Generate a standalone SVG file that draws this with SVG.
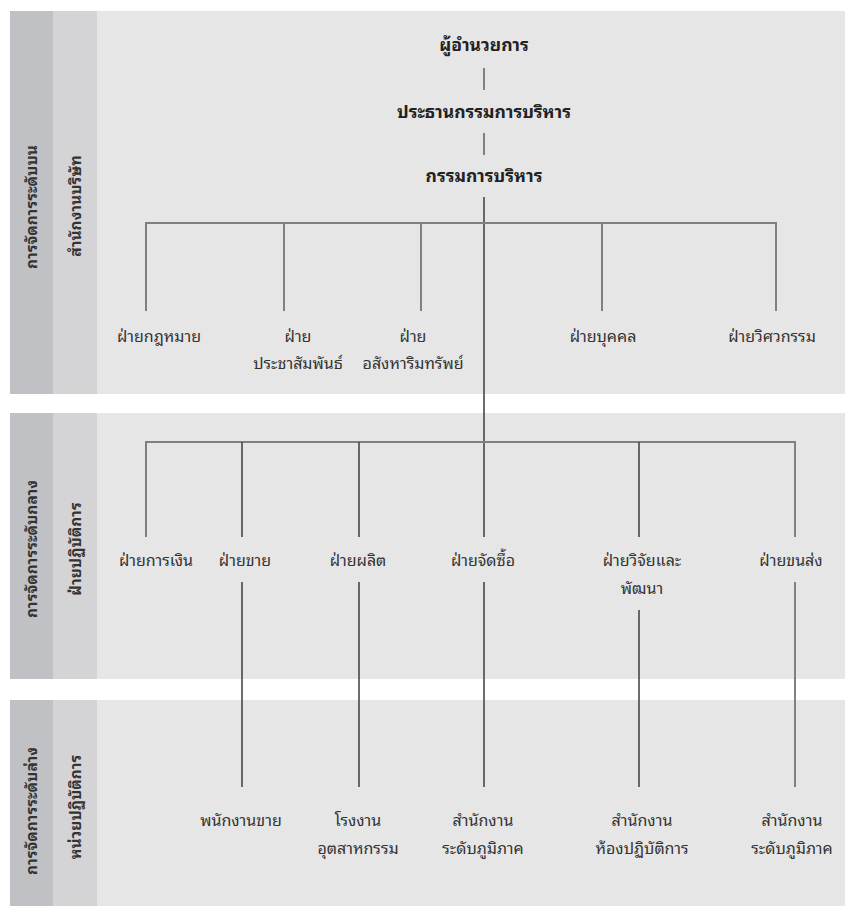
<svg xmlns="http://www.w3.org/2000/svg" width="845" height="909" viewBox="0 0 845 909">
<style>
text{font-family:"Noto Sans Thai Looped","Loma","Garuda","Noto Sans Thai","Noto Sans","DejaVu Sans",sans-serif;fill:#333;text-anchor:middle}
.t{font-size:16px}
.b{font-size:17.5px;font-weight:bold;fill:#222}
.side{font-size:15.5px;font-weight:bold;fill:#333}
.g{stroke:#808080;stroke-width:2;fill:none}
.d{stroke:#3c3c3c;stroke-width:1.5;fill:none}
.main{fill:#e6e6e6}
.c1{fill:#c0c1c5}
.c2{fill:#d4d4d6}
</style>
<rect width="845" height="909" fill="#fff"/>
<g id="bands">
<rect class="main" x="10" y="11" width="835" height="383"/>
<rect class="c1" x="10" y="11" width="43" height="383"/>
<rect class="c2" x="53" y="11" width="44" height="383"/>
<rect class="main" x="10" y="413" width="835" height="266"/>
<rect class="c1" x="10" y="413" width="43" height="266"/>
<rect class="c2" x="53" y="413" width="44" height="266"/>
<rect class="main" x="10" y="700" width="835" height="206"/>
<rect class="c1" x="10" y="700" width="43" height="206"/>
<rect class="c2" x="53" y="700" width="44" height="206"/>
<text class="side" transform="translate(37,207) rotate(-90)">การจัดการระดับบน</text>
<text class="side" transform="translate(81,206) rotate(-90)">สำนักงานบริษัท</text>
<text class="side" transform="translate(37,549) rotate(-90)">การจัดการระดับกลาง</text>
<text class="side" transform="translate(81,549) rotate(-90)">ฝ่ายปฏิบัติการ</text>
<text class="side" transform="translate(37,811) rotate(-90)">การจัดการระดับล่าง</text>
<text class="side" transform="translate(81,807) rotate(-90)">หน่วยปฏิบัติการ</text>
</g>
<g id="connectors">
<line class="g" x1="484" y1="68" x2="484" y2="90"/>
<line class="g" x1="484" y1="133" x2="484" y2="155"/>
<line class="d" x1="484" y1="197" x2="484" y2="537"/>
<polyline class="g" points="146,311 146,223 776,223 776,311"/>
<line class="g" x1="284" y1="223" x2="284" y2="311"/>
<line class="g" x1="421" y1="223" x2="421" y2="311"/>
<line class="g" x1="602" y1="223" x2="602" y2="311"/>
<polyline class="g" points="146,537 146,442 795,442 795,537"/>
<line class="d" x1="242" y1="442" x2="242" y2="537"/>
<line class="d" x1="359" y1="442" x2="359" y2="537"/>
<line class="d" x1="639" y1="442" x2="639" y2="537"/>
<line class="d" x1="242" y1="582" x2="242" y2="787"/>
<line class="d" x1="359" y1="582" x2="359" y2="787"/>
<line class="d" x1="484" y1="582" x2="484" y2="787"/>
<line class="d" x1="639" y1="610" x2="639" y2="787"/>
<line class="g" x1="795" y1="582" x2="795" y2="787"/>
</g>
<g id="n-director"><text class="b" x="484" y="51">ผู้อำนวยการ</text></g>
<g id="n-chairman"><text class="b" x="484" y="118">ประธานกรรมการบริหาร</text></g>
<g id="n-exec"><text class="b" x="484" y="182">กรรมการบริหาร</text></g>
<g id="n-legal"><text class="t" x="159" y="342">ฝ่ายกฎหมาย</text></g>
<g id="n-pr"><text class="t" x="298" y="342">ฝ่าย</text><text class="t" x="298" y="369">ประชาสัมพันธ์</text></g>
<g id="n-realestate"><text class="t" x="413" y="342">ฝ่าย</text><text class="t" x="413" y="369">อสังหาริมทรัพย์</text></g>
<g id="n-hr"><text class="t" x="603" y="342">ฝ่ายบุคคล</text></g>
<g id="n-eng"><text class="t" x="772" y="342">ฝ่ายวิศวกรรม</text></g>
<g id="n-finance"><text class="t" x="156" y="566">ฝ่ายการเงิน</text></g>
<g id="n-sales"><text class="t" x="245" y="566">ฝ่ายขาย</text></g>
<g id="n-prod"><text class="t" x="358" y="566">ฝ่ายผลิต</text></g>
<g id="n-purch"><text class="t" x="483" y="566">ฝ่ายจัดซื้อ</text></g>
<g id="n-rnd"><text class="t" x="642" y="566">ฝ่ายวิจัยและ</text><text class="t" x="642" y="594">พัฒนา</text></g>
<g id="n-logi"><text class="t" x="791" y="566">ฝ่ายขนส่ง</text></g>
<g id="n-salesstaff"><text class="t" x="241" y="826">พนักงานขาย</text></g>
<g id="n-factory"><text class="t" x="358" y="826">โรงงาน</text><text class="t" x="358" y="854">อุตสาหกรรม</text></g>
<g id="n-region1"><text class="t" x="483" y="826">สำนักงาน</text><text class="t" x="483" y="854">ระดับภูมิภาค</text></g>
<g id="n-lab"><text class="t" x="642" y="826">สำนักงาน</text><text class="t" x="642" y="854">ห้องปฏิบัติการ</text></g>
<g id="n-region2"><text class="t" x="792" y="826">สำนักงาน</text><text class="t" x="792" y="854">ระดับภูมิภาค</text></g>
</svg>
